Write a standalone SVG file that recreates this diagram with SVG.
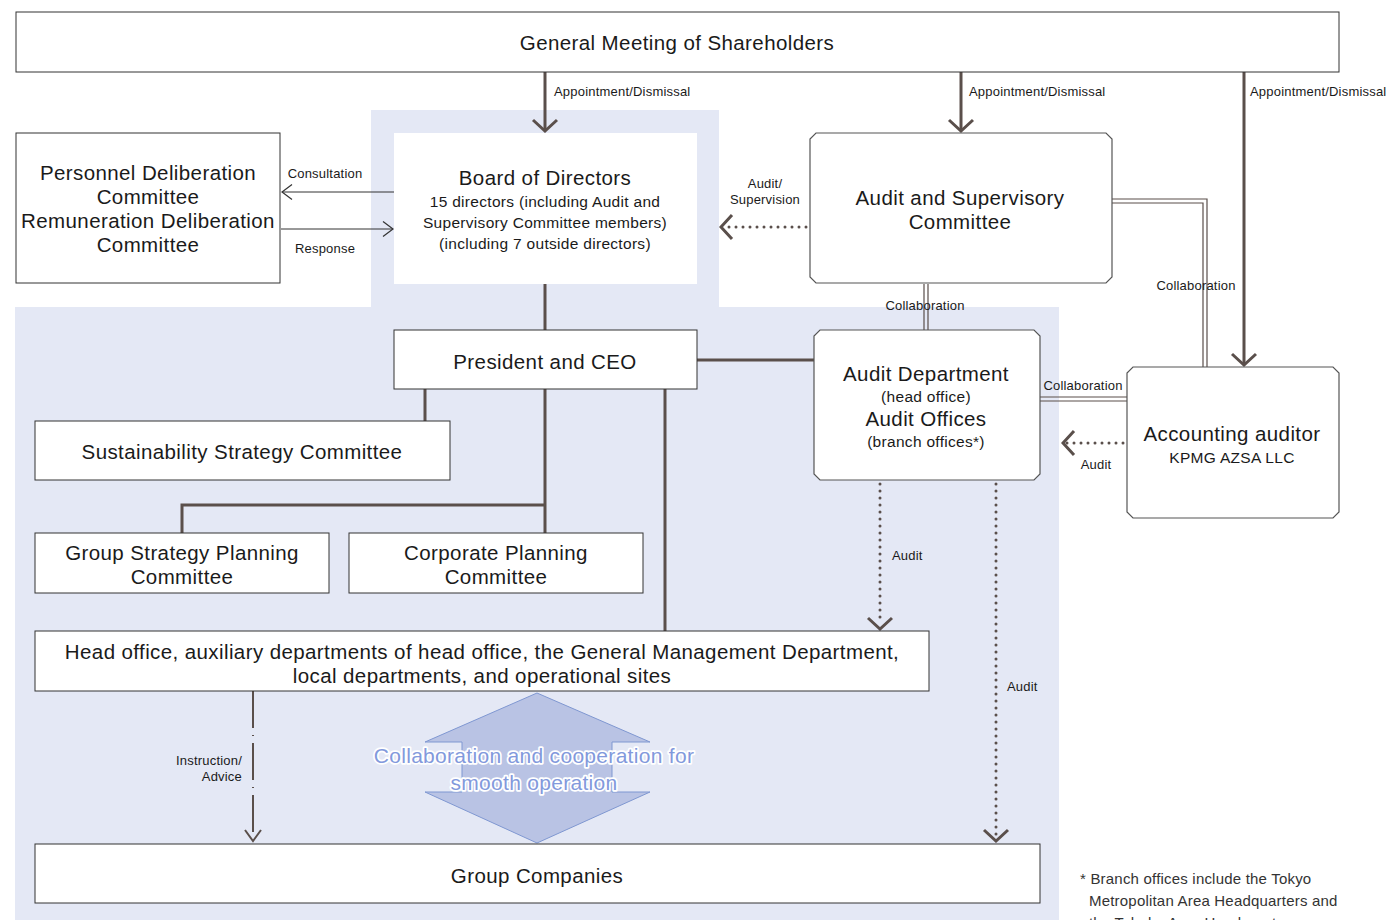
<svg xmlns="http://www.w3.org/2000/svg" width="1386" height="920" viewBox="0 0 1386 920">
  <style>
    text { font-family: "Liberation Sans", Arial, sans-serif; fill: #1a1a1a; }
    .t20 { font-size: 20.5px; letter-spacing: 0.4px; text-anchor: middle; }
    .t15 { font-size: 15.5px; letter-spacing: 0.3px; text-anchor: middle; }
    .lbl { font-size: 13px; letter-spacing: 0.2px; }
    .box { fill: #ffffff; stroke: #333333; stroke-width: 1; }
    .cbox { fill: #ffffff; stroke: #555555; stroke-width: 1.2; }
    .thick { fill: none; stroke: #5a4f4b; stroke-width: 3; }
    .thin { fill: none; stroke: #333333; stroke-width: 1; }
    .dots { fill: none; stroke: #5a4f4b; stroke-width: 3; stroke-linecap: round; stroke-dasharray: 0 7; }
    .dbl { fill: none; stroke: #5a4f4b; stroke-width: 1.2; }
    .dash { fill: none; stroke: #5a4f4b; stroke-width: 2; stroke-dasharray: 37 7 1 7; }
    .zone { fill: #e4e8f5; }
    .coop { font-size: 21px; letter-spacing: 0.3px; text-anchor: middle; fill: #8299dc; stroke: #ffffff; stroke-width: 3.5; paint-order: stroke; stroke-linejoin: round; }
    .note { font-size: 15px; letter-spacing: 0.2px; fill: #333333; }
  </style>
  <defs>
    <marker id="chev" viewBox="-14 -14 16 28" markerWidth="16" markerHeight="28" refX="0" refY="0" orient="auto" markerUnits="userSpaceOnUse">
      <path d="M -11,-12 L 0,0 L -11,12" fill="none" stroke="#5a4f4b" stroke-width="3"/>
    </marker>
    <marker id="chevThin" viewBox="-12 -9 14 18" markerWidth="14" markerHeight="18" refX="0" refY="0" orient="auto" markerUnits="userSpaceOnUse">
      <path d="M -10,-7.5 L 0,0 L -10,7.5" fill="none" stroke="#333333" stroke-width="1.2"/>
    </marker>
    <marker id="chevMid" viewBox="-13 -10 15 20" markerWidth="15" markerHeight="20" refX="0" refY="0" orient="auto" markerUnits="userSpaceOnUse">
      <path d="M -11,-8 L 0,0 L -11,8" fill="none" stroke="#5a4f4b" stroke-width="2"/>
    </marker>
  </defs>

  <rect width="1386" height="920" fill="#ffffff"/>

  <!-- shaded executive zone -->
  <g id="zones">
    <rect class="zone" x="371" y="110" width="348" height="198"/>
    <rect class="zone" x="15" y="307" width="1044" height="613"/>
  </g>

  <!-- connectors -->
  <g id="connectors">
    <!-- appointment / dismissal -->
    <line class="thick" x1="545" y1="72" x2="545" y2="131" marker-end="url(#chev)"/>
    <line class="thick" x1="961" y1="72" x2="961" y2="131" marker-end="url(#chev)"/>
    <line class="thick" x1="1244" y1="72" x2="1244" y2="365" marker-end="url(#chev)"/>
    <text class="lbl" x="554" y="96">Appointment/Dismissal</text>
    <text class="lbl" x="969" y="96">Appointment/Dismissal</text>
    <text class="lbl" x="1250" y="96">Appointment/Dismissal</text>

    <!-- consultation / response -->
    <line class="thin" x1="394" y1="192" x2="282" y2="192" marker-end="url(#chevThin)"/>
    <line class="thin" x1="281" y1="229" x2="393" y2="229" marker-end="url(#chevThin)"/>
    <text class="lbl" x="325" y="178" text-anchor="middle">Consultation</text>
    <text class="lbl" x="325" y="253" text-anchor="middle">Response</text>

    <!-- audit / supervision -->
    <line class="dots" x1="806" y1="227" x2="724" y2="227"/>
    <line x1="724" y1="227" x2="721" y2="227" stroke="none" marker-end="url(#chev)"/>
    <text class="lbl" x="765" y="188" text-anchor="middle">Audit/</text>
    <text class="lbl" x="765" y="204" text-anchor="middle">Supervision</text>

    <!-- collaboration double lines -->
    <path class="dbl" d="M 924 284 V 330 M 928 284 V 330"/>
    <text class="lbl" x="925" y="310" text-anchor="middle">Collaboration</text>
    <path class="dbl" d="M 1112 199 H 1207 V 367 M 1112 203 H 1203 V 367"/>
    <text class="lbl" x="1196" y="290" text-anchor="middle">Collaboration</text>
    <path class="dbl" d="M 1040 397 H 1127 M 1040 401 H 1127"/>
    <text class="lbl" x="1083" y="390" text-anchor="middle">Collaboration</text>

    <!-- accounting auditor audit -->
    <line class="dots" x1="1123" y1="443" x2="1066" y2="443"/>
    <line x1="1066" y1="443" x2="1063" y2="443" stroke="none" marker-end="url(#chev)"/>
    <text class="lbl" x="1096" y="469" text-anchor="middle">Audit</text>

    <!-- reporting lines -->
    <line class="thick" x1="545" y1="284" x2="545" y2="330"/>
    <line class="thick" x1="697" y1="360" x2="814" y2="360"/>
    <line class="thick" x1="425" y1="389" x2="425" y2="421"/>
    <path class="thick" d="M 545 389 V 533 M 545 505 H 182 V 533"/>
    <line class="thick" x1="665" y1="389" x2="665" y2="631"/>

    <!-- internal audit lines -->
    <line class="dots" x1="880" y1="484" x2="880" y2="624"/>
    <line x1="880" y1="626" x2="880" y2="629" stroke="none" marker-end="url(#chev)"/>
    <text class="lbl" x="892" y="560">Audit</text>
    <line class="dots" x1="996" y1="484" x2="996" y2="836"/>
    <line x1="996" y1="838" x2="996" y2="841" stroke="none" marker-end="url(#chev)"/>
    <text class="lbl" x="1007" y="691">Audit</text>

    <!-- instruction / advice -->
    <line class="dash" x1="253" y1="691" x2="253" y2="838"/>
    <line x1="253" y1="838" x2="253" y2="841" stroke="none" marker-end="url(#chevMid)"/>
    <text class="lbl" x="242" y="765" text-anchor="end">Instruction/</text>
    <text class="lbl" x="242" y="781" text-anchor="end">Advice</text>
  </g>

  <!-- nodes -->
  <g id="shareholders">
    <rect class="box" x="16" y="12" width="1323" height="60"/>
    <text class="t20" x="677" y="50">General Meeting of Shareholders</text>
  </g>

  <g id="deliberation-committees">
    <rect class="box" x="16" y="133" width="264" height="150"/>
    <text class="t20" x="148" y="180">Personnel Deliberation</text>
    <text class="t20" x="148" y="204">Committee</text>
    <text class="t20" x="148" y="228">Remuneration Deliberation</text>
    <text class="t20" x="148" y="252">Committee</text>
  </g>

  <g id="board">
    <rect x="394" y="133" width="303" height="151" fill="#ffffff"/>
    <text class="t20" x="545" y="185">Board of Directors</text>
    <text class="t15" x="545" y="207">15 directors (including Audit and</text>
    <text class="t15" x="545" y="228">Supervisory Committee members)</text>
    <text class="t15" x="545" y="249">(including 7 outside directors)</text>
  </g>

  <g id="audit-supervisory-committee">
    <path class="cbox" d="M 816 133 H 1106 L 1112 139 V 277 L 1106 283 H 816 L 810 277 V 139 Z"/>
    <text class="t20" x="960" y="205">Audit and Supervisory</text>
    <text class="t20" x="960" y="229">Committee</text>
  </g>

  <g id="president">
    <rect class="box" x="394" y="330" width="303" height="59"/>
    <text class="t20" x="545" y="369">President and CEO</text>
  </g>

  <g id="audit-department">
    <path class="cbox" d="M 820 330 H 1034 L 1040 336 V 474 L 1034 480 H 820 L 814 474 V 336 Z"/>
    <text class="t20" x="926" y="381">Audit Department</text>
    <text class="t15" x="926" y="402">(head office)</text>
    <text class="t20" x="926" y="426">Audit Offices</text>
    <text class="t15" x="926" y="447">(branch offices*)</text>
  </g>

  <g id="accounting-auditor">
    <path class="cbox" d="M 1133 367 H 1333 L 1339 373 V 512 L 1333 518 H 1133 L 1127 512 V 373 Z"/>
    <text class="t20" x="1232" y="441">Accounting auditor</text>
    <text class="t15" x="1232" y="463">KPMG AZSA LLC</text>
  </g>

  <g id="sustainability">
    <rect class="box" x="35" y="421" width="415" height="59"/>
    <text class="t20" x="242" y="459">Sustainability Strategy Committee</text>
  </g>

  <g id="group-strategy">
    <rect class="box" x="35" y="533" width="294" height="60"/>
    <text class="t20" x="182" y="560">Group Strategy Planning</text>
    <text class="t20" x="182" y="584">Committee</text>
  </g>

  <g id="corporate-planning">
    <rect class="box" x="349" y="533" width="294" height="60"/>
    <text class="t20" x="496" y="560">Corporate Planning</text>
    <text class="t20" x="496" y="584">Committee</text>
  </g>

  <g id="head-office">
    <rect class="box" x="35" y="631" width="894" height="60"/>
    <text class="t20" x="482" y="659">Head office, auxiliary departments of head office, the General Management Department,</text>
    <text class="t20" x="482" y="683">local departments, and operational sites</text>
  </g>

  <g id="cooperation">
    <path d="M 537 693 L 650 742 H 612 V 792 H 650 L 537 843 L 425 792 H 462 V 742 H 425 Z" fill="#b9c3e4" stroke="#7f97d1" stroke-width="1"/>
    <text class="coop" x="534" y="763">Collaboration and cooperation for</text>
    <text class="coop" x="534" y="790">smooth operation</text>
  </g>

  <g id="group-companies">
    <rect class="box" x="35" y="844" width="1005" height="59"/>
    <text class="t20" x="537" y="883">Group Companies</text>
  </g>

  <g id="footnote">
    <text class="note" x="1080" y="884">* Branch offices include the Tokyo</text>
    <text class="note" x="1089" y="906">Metropolitan Area Headquarters and</text>
    <text class="note" x="1089" y="928">the Tohoku Area Headquarters</text>
  </g>
</svg>
